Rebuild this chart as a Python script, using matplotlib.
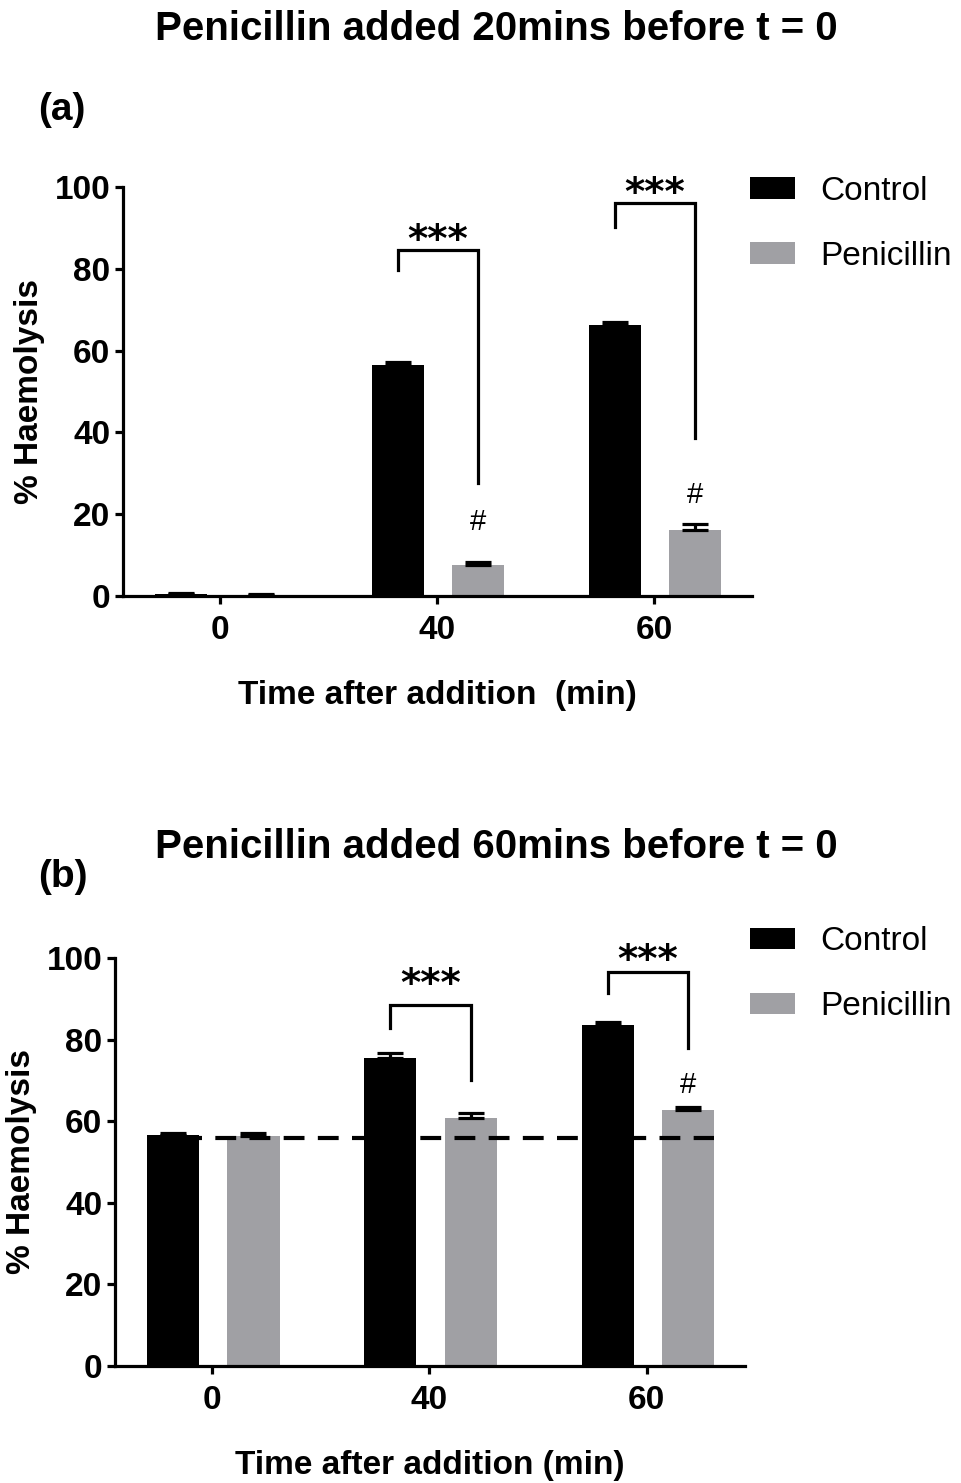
import matplotlib
matplotlib.use('Agg')
import matplotlib.pyplot as plt
import numpy as np
from matplotlib.patches import Patch

plt.rcParams['font.family'] = ['Liberation Sans', 'DejaVu Sans']

# ---------------- data ----------------
times = ['0', '40', '60']
series = ['Control', 'Penicillin']

a_control = [0.4, 56.6, 66.3]
a_control_err = [0.3, 0.7, 0.8]
a_pen = [0.3, 7.6, 16.1]
a_pen_err = [0.2, 0.6, 1.6]

b_control = [56.6, 75.6, 83.6]
b_control_err = [0.6, 1.0, 0.8]
b_pen = [56.4, 60.7, 62.7]
b_pen_err = [0.8, 1.2, 0.7]
b_baseline = 56.0

# significance brackets: (group index, left leg bottom, top, right leg bottom, stars y, hash y or None)
a_sig = [(1, 79.7, 84.6, 27.6, 87.9, 18.6), (2, 90.2, 96.1, 38.6, 99.5, 25.3)]
b_sig = [(1, 82.8, 88.5, 70.1, 94.5, None), (2, 91.4, 96.6, 77.9, 100.4, 69.6)]

titles = ['Penicillin added 20mins before t = 0', 'Penicillin added 60mins before t = 0']
xlabels = ['Time after addition  (min)', 'Time after addition (min)']
panel_labels = ['(a)', '(b)']

BLACK = '#000000'
GREY = '#a0a0a4'

W, H = 961, 1483
fig = plt.figure(figsize=(W / 100, H / 100), dpi=100)


def fx(px):
    return px / W


def fy(py):
    return 1 - py / H


off_c, off_p, bw = -0.18, 0.19, 0.24
LW = 2.3
FS = 24
STAR_FS = 28
HASH_FS = 21


def draw_panel(rect, ctrl, ctrl_err, pen, pen_err, sig, xlabel, legend_anchor, baseline=None):
    ax = fig.add_axes(rect)
    x = np.arange(len(times))
    ax.bar(x + off_c, ctrl, bw, color=BLACK, zorder=2)
    ax.bar(x + off_p, pen, bw, color=GREY, zorder=2)
    for xs, vals, errs in [(x + off_c, ctrl, ctrl_err), (x + off_p, pen, pen_err)]:
        ax.errorbar(xs, vals, yerr=[np.zeros(len(vals)), errs], fmt='none',
                    ecolor=BLACK, elinewidth=LW, capsize=9.7, capthick=LW, zorder=3)
    if baseline is not None:
        ax.plot([x[0] + off_c - bw / 2, x[-1] + off_p + bw / 2], [baseline, baseline],
                color=BLACK, lw=3.0, dashes=(5, 3.2), zorder=4)
    for g, lb, top, rb, sy, hy in sig:
        xl, xr = g + off_c, g + off_p
        ax.plot([xl, xl, xr, xr], [lb, top, top, rb], color=BLACK, lw=LW,
                solid_joinstyle='miter', clip_on=False, zorder=5)
        ax.annotate('***', xy=((xl + xr) / 2, sy), xytext=(0, -0.41 * STAR_FS),
                    textcoords='offset points', ha='center', va='baseline',
                    fontsize=STAR_FS, fontweight='bold', family='DejaVu Sans',
                    annotation_clip=False)
        if hy is not None:
            ax.annotate('#', xy=(xr, hy), xytext=(0, -0.36 * HASH_FS),
                        textcoords='offset points', ha='center', va='baseline',
                        fontsize=HASH_FS, annotation_clip=False)
    ax.set_ylim(0, 100)
    ax.set_xlim(-0.447, 2.452)
    ax.set_xticks(x)
    ax.set_xticklabels(times)
    ax.set_yticks([0, 20, 40, 60, 80, 100])
    for s in ['top', 'right']:
        ax.spines[s].set_visible(False)
    for s in ['left', 'bottom']:
        ax.spines[s].set_linewidth(LW)
    ax.tick_params(width=LW, length=6, labelsize=FS)
    ax.tick_params(axis='x', pad=8)
    ax.tick_params(axis='y', pad=3)
    for lab in ax.get_xticklabels() + ax.get_yticklabels():
        lab.set_fontweight('bold')
    ax.set_ylabel('% Haemolysis', fontsize=FS, fontweight='bold', labelpad=7)
    ax.set_xlabel(xlabel, fontsize=FS, fontweight='bold', labelpad=24)
    handles = [Patch(facecolor=BLACK, label=series[0]), Patch(facecolor=GREY, label=series[1])]
    ax.legend(handles=handles, loc='upper left', bbox_to_anchor=legend_anchor,
              frameon=False, fontsize=FS, handlelength=1.35, handleheight=0.62,
              handletextpad=0.75, labelspacing=1.02, borderpad=0, borderaxespad=0)
    return ax


rect_a = [fx(123), fy(596), fx(752 - 123), (596 - 187) / H]
rect_b = [fx(115), fy(1366), fx(745 - 115), (1366 - 958) / H]

draw_panel(rect_a, a_control, a_control_err, a_pen, a_pen_err, a_sig, xlabels[0],
           legend_anchor=(0.9968, 1.027))
draw_panel(rect_b, b_control, b_control_err, b_pen, b_pen_err, b_sig, xlabels[1],
           legend_anchor=(1.0079, 1.078), baseline=b_baseline)

fig.text(fx(496), fy(29), titles[0], ha='center', va='center', fontsize=29, fontweight='bold')
fig.text(fx(496), fy(847), titles[1], ha='center', va='center', fontsize=29, fontweight='bold')
fig.text(fx(38), fy(110), panel_labels[0], ha='left', va='center', fontsize=28, fontweight='bold')
fig.text(fx(38), fy(877), panel_labels[1], ha='left', va='center', fontsize=28, fontweight='bold')

fig.savefig('out.png', dpi=100)
